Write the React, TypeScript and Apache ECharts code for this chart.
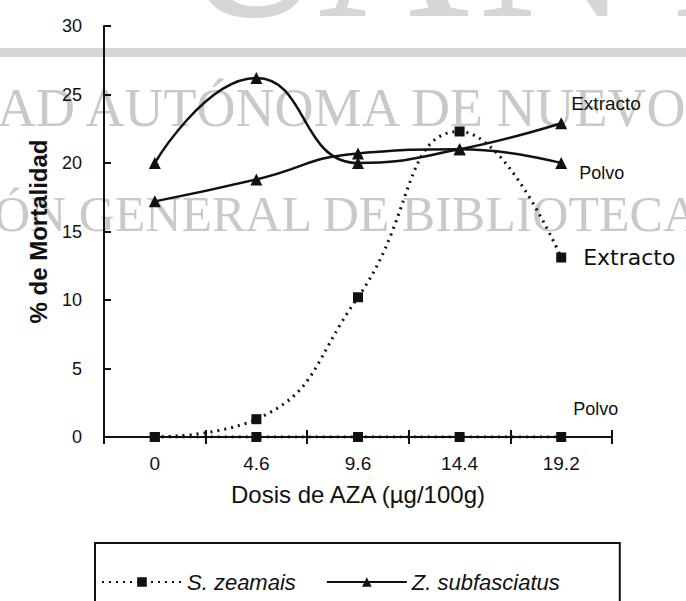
import React, { useEffect, useRef } from "react";
import * as echarts from "echarts";

const doses = ["0", "4.6", "9.6", "14.4", "19.2"];
const yTicks = [0, 5, 10, 15, 20, 25, 30];
const zeamaisExtracto = [0, 1.3, 10.2, 22.3, 13.1];
const zeamaisPolvo = [0, 0, 0, 0, 0];
const subfExtracto = [20, 26.2, 20.0, 21.0, 22.9];
const subfPolvo = [17.2, 18.8, 20.7, 21.0, 20.0];
const seriesNames = ["S. zeamais", "Z. subfasciatus"];
const endLabels = ["Extracto", "Polvo", "Extracto", "Polvo"];

const INK = "#111";
const WM = "#c9c9c9";
const SANS = "Liberation Sans, Arial, sans-serif";
const SERIF = "Liberation Serif, Times New Roman, serif";

export default function App() {
  const ref = useRef<HTMLDivElement>(null);
  useEffect(() => {
    if (!ref.current) return;
    const chart = echarts.init(ref.current, undefined, { renderer: "svg" });
    const lineBase = (name: string, data: number[], dotted: boolean, sym: string, label: string, offset: number[], fs: number, ff: string) => ({
      name,
      type: "line",
      data,
      smooth: 0.5,
      symbol: sym,
      symbolSize: sym === "triangle" ? 12 : 10,
      itemStyle: { color: INK },
      lineStyle: { color: INK, width: dotted ? 3 : 2.5, type: dotted ? [2, 5] : "solid" },
      z: 5,
      endLabel: {
        show: true,
        formatter: label,
        distance: 8,
        offset,
        color: INK,
        fontSize: fs,
        fontFamily: ff,
      },
    });
    chart.setOption({
      animation: false,
      backgroundColor: "#fff",
      graphic: [
        { type: "rect", z: -10, shape: { x: 0, y: 48, width: 686, height: 9 }, style: { fill: "#d6d6d6" } },
        { type: "text", z: -10, x: 178, y: -55, style: { text: "U", font: `210px ${SERIF}`, fill: "#d6d6d6", verticalAlign: "middle" } },
        { type: "text", z: -10, x: 318, y: -55, style: { text: "A", font: `210px ${SERIF}`, fill: "#d6d6d6", verticalAlign: "middle" } },
        { type: "text", z: -10, x: 478, y: -55, style: { text: "N", font: `210px ${SERIF}`, fill: "#d6d6d6", verticalAlign: "middle" } },
        { type: "text", z: -10, x: 672, y: -55, style: { text: "L", font: `210px ${SERIF}`, fill: "#d6d6d6", verticalAlign: "middle" } },
        { type: "text", z: -10, x: -3, y: 108, style: { text: "AD AUTÓNOMA DE NUEVO", font: `54px ${SERIF}`, fill: WM, verticalAlign: "middle" } },
        { type: "text", z: -10, x: -6, y: 214, style: { text: "ÓN GENERAL DE BIBLIOTECA", font: `50px ${SERIF}`, fill: WM, verticalAlign: "middle" } },
      ],
      grid: { left: 104, right: 74, top: 26, bottom: 164, containLabel: false },
      legend: {
        data: seriesNames,
        left: 95,
        top: 543,
        orient: "horizontal",
        padding: [28, 60, 40, 6],
        itemWidth: 80,
        itemHeight: 12,
        itemGap: 30,
        borderColor: INK,
        borderWidth: 2,
        textStyle: { color: INK, fontSize: 22, fontStyle: "italic", fontFamily: SANS },
      },
      xAxis: [
        {
          type: "category",
          data: doses,
          boundaryGap: true,
          position: "bottom",
          axisLine: { show: true, lineStyle: { color: INK, width: 2 } },
          axisTick: { show: true, inside: false, length: 7, lineStyle: { color: INK, width: 2 } },
          axisLabel: { color: INK, fontSize: 19, fontFamily: SANS, margin: 17 },
          name: "Dosis de AZA (µg/100g)",
          nameLocation: "middle",
          nameGap: 45,
          nameTextStyle: { color: INK, fontSize: 24, fontFamily: SANS },
          splitLine: { show: false },
        },
        {
          type: "category",
          data: doses,
          boundaryGap: true,
          position: "bottom",
          offset: 0,
          axisLine: { show: false },
          axisTick: { show: true, inside: true, length: 7, lineStyle: { color: INK, width: 2 } },
          axisLabel: { show: false },
          splitLine: { show: false },
        },
      ],
      yAxis: {
        type: "value",
        min: yTicks[0],
        max: yTicks[yTicks.length - 1],
        interval: 5,
        axisLine: { show: true, lineStyle: { color: INK, width: 2 } },
        axisTick: { show: true, inside: true, length: 7, lineStyle: { color: INK, width: 2 } },
        axisLabel: { color: INK, fontSize: 18, fontFamily: SANS, margin: 22 },
        splitLine: { show: false },
        name: "% de Mortalidad",
        nameLocation: "middle",
        nameGap: 54,
        nameRotate: 90,
        nameTextStyle: { color: INK, fontSize: 24, fontWeight: "bold", fontFamily: SANS },
      },
      series: [
        lineBase(seriesNames[0], zeamaisExtracto, true, "rect", endLabels[2], [14, 0], 22, "DejaVu Sans, sans-serif"),
        lineBase(seriesNames[0], zeamaisPolvo, true, "rect", endLabels[3], [4, -28], 18, SANS),
        lineBase(seriesNames[1], subfExtracto, false, "triangle", endLabels[0], [2, -20], 19, SANS),
        lineBase(seriesNames[1], subfPolvo, false, "triangle", endLabels[1], [10, 10], 18, SANS),
      ],
    });
    return () => chart.dispose();
  }, []);
  return <div ref={ref} style={{ position: "fixed", left: 0, top: 0, width: 686, height: 601 }} />;
}
